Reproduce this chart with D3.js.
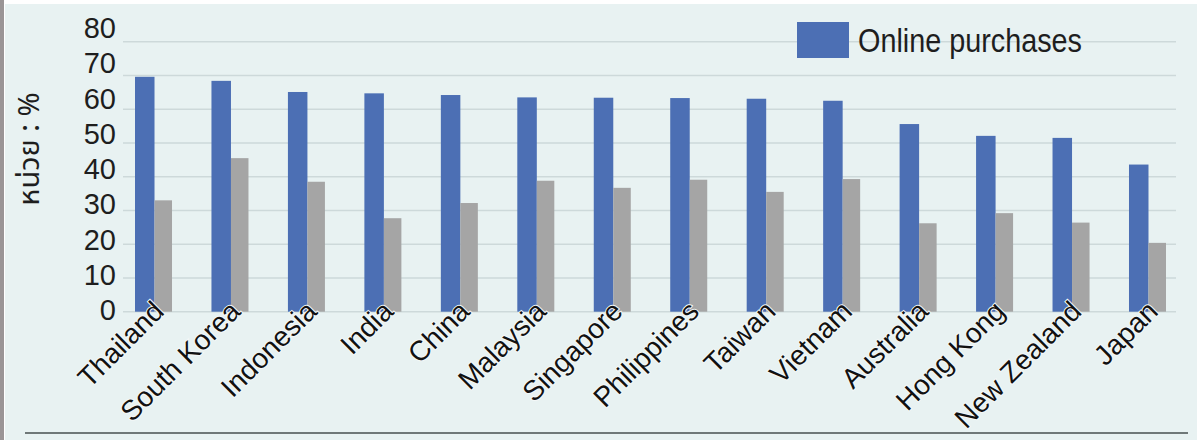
<!DOCTYPE html>
<html>
<head>
<meta charset="utf-8">
<script src="https://cdn.jsdelivr.net/npm/d3@7"></script>
<style>
  html, body { margin: 0; padding: 0; background: #ffffff; }
  svg { display: block; }
  text { font-family: "Liberation Sans", Arial, "Noto Sans", sans-serif; }
</style>
</head>
<body>
<div id="chart"></div>
<script>
// chart values
const countries = ['Thailand', 'South Korea', 'Indonesia', 'India', 'China', 'Malaysia', 'Singapore',
  'Philippines', 'Taiwan', 'Vietnam', 'Australia', 'Hong Kong', 'New Zealand', 'Japan'];
const online = [69.6, 68.4, 65.1, 64.7, 64.2, 63.5, 63.4, 63.3, 63.1, 62.5, 55.6, 52.1, 51.5, 43.6];
const other = [33.0, 45.5, 38.5, 27.7, 32.2, 38.8, 36.7, 39.1, 35.5, 39.3, 26.2, 29.2, 26.4, 20.4];
const yTicks = [0, 10, 20, 30, 40, 50, 60, 70, 80];
const series = ['Online purchases', 'Other'];
const legendLabel = 'Online purchases';
const yTitle = 'หน่วย : %';

'use strict';
const width = 1200;
const height = 440;

const svg = d3.select('#chart').append('svg').attr('width', width).attr('height', height);

//background panel + borders
svg.append('rect').attr('x', 0).attr('y', 0).attr('width', width).attr('height', height).attr('fill', '#ffffff');
svg.append('rect').attr('x', 5).attr('y', 4).attr('width', 1192).attr('height', 436).attr('fill', '#e8f2f2');
svg.append('rect').attr('x', 0).attr('y', 0).attr('width', 4).attr('height', height).attr('fill', '#9a9596');
svg.append('line').attr('x1', 25).attr('x2', 1188).attr('y1', 433).attr('y2', 433)
  .attr('stroke', '#6f7878').attr('stroke-width', 2);

//scales
const x0 = d3.scaleBand().domain(countries).range([123, 1178]).paddingInner(0.516).paddingOuter(0.157);
const x1 = d3.scaleBand().domain(series).range([0, x0.bandwidth()]);
const y = d3.scaleLinear().domain([0, 80]).range([311.7, 41.7]);
const yLabel = d3.scaleLinear().domain([0, 80]).range([310, 28]);   //labels sit a little off the grid

//grid lines
svg.append('g').selectAll('line').data(yTicks).join('line')
  .attr('x1', 123).attr('x2', 1176)
  .attr('y1', d => y(d)).attr('y2', d => y(d))
  .attr('stroke', '#cdd9da').attr('stroke-width', 1.5);

//y tick labels
svg.append('g').selectAll('text').data(yTicks).join('text')
  .attr('x', 116).attr('y', d => yLabel(d))
  .attr('text-anchor', 'end').attr('dominant-baseline', 'central')
  .attr('fill', '#1e1e1e').style('font-size', '29px')
  .text(d => d);

//y title
svg.append('text')
  .attr('transform', 'translate(30,149) rotate(-90)')
  .attr('text-anchor', 'middle').attr('dominant-baseline', 'central')
  .attr('fill', '#1e1e1e')
  .style('font-family', '"Noto Sans Thai", "Noto Sans", "DejaVu Sans", sans-serif')
  .style('font-size', '29px')
  .text(yTitle);

//bars
const groups = svg.append('g').selectAll('g').data(countries).join('g')
  .attr('transform', d => `translate(${x0(d)},0)`);

groups.append('rect')
  .attr('x', x1(series[0]))
  .attr('y', (d, i) => y(online[i]))
  .attr('width', x1.bandwidth() + 1)
  .attr('height', (d, i) => y(0) - y(online[i]))
  .attr('fill', '#4c6fb4');

groups.append('rect')
  .attr('x', x1(series[1]) + 1)
  .attr('y', (d, i) => y(other[i]))
  .attr('width', x1.bandwidth() - 1)
  .attr('height', (d, i) => y(0) - y(other[i]))
  .attr('fill', '#a5a5a5');

//category labels (thin light halo like the original)
svg.append('g').selectAll('text').data(countries).join('text')
  .attr('transform', d => `translate(${x0(d) + x0.bandwidth() / 2 + 12},313) rotate(-45)`)
  .attr('text-anchor', 'end')
  .attr('fill', '#111111').style('font-size', '28px')
  .attr('stroke', '#f4f8f8').attr('stroke-width', 2).style('paint-order', 'stroke')
  .text(d => d);

//legend
svg.append('rect').attr('x', 797).attr('y', 22).attr('width', 52).attr('height', 36).attr('fill', '#4c6fb4');
svg.append('text').attr('x', 858).attr('y', 52)
  .attr('fill', '#1e1e1e').style('font-size', '33px')
  .attr('textLength', 224).attr('lengthAdjust', 'spacingAndGlyphs')
  .text(legendLabel);
</script>
</body>
</html>
